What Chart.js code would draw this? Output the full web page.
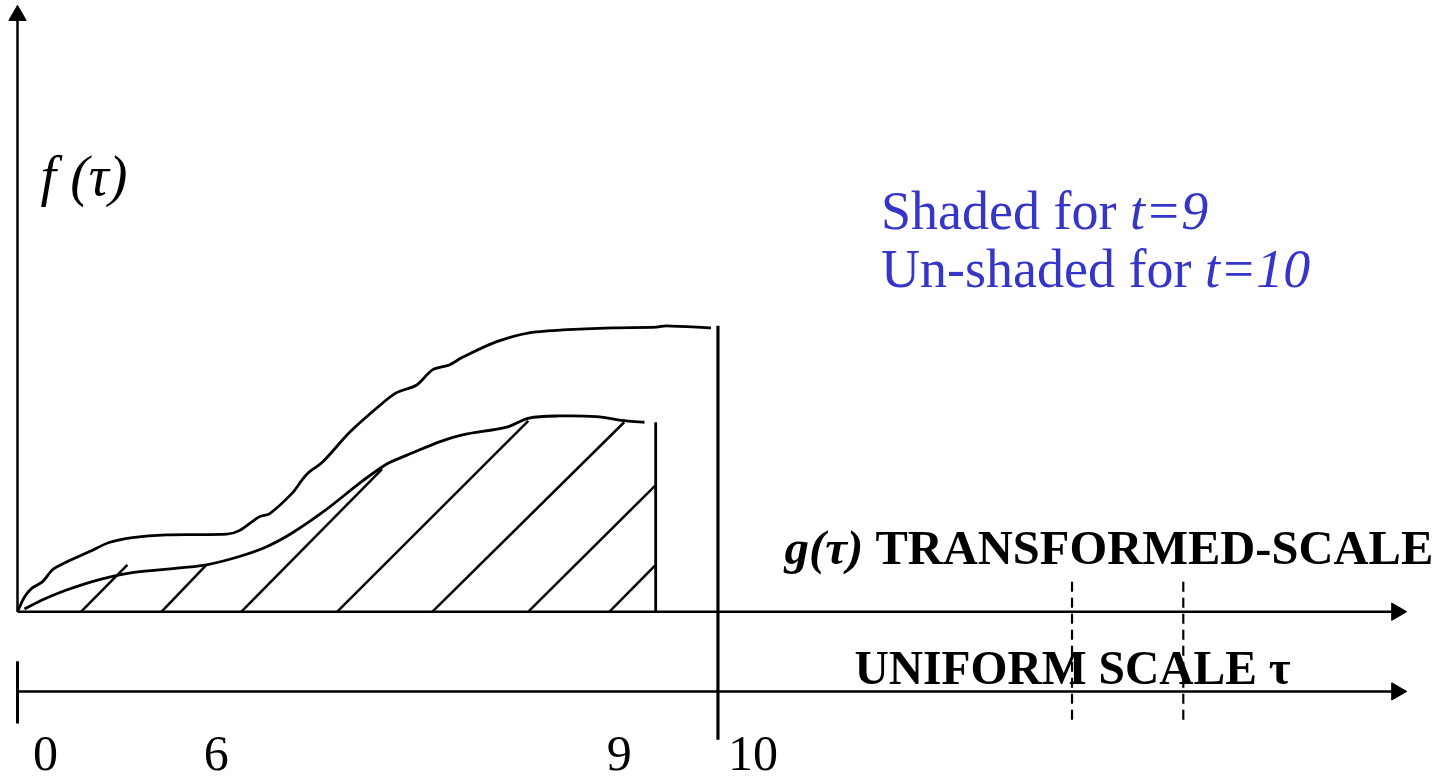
<!DOCTYPE html>
<html>
<head>
<meta charset="utf-8">
<script src="https://cdn.jsdelivr.net/npm/chart.js@4.4.1/dist/chart.umd.min.js"></script>
<style>
    body { margin: 0; background: #fff; }
    canvas { display: block; }
</style>
</head>
<body>
<canvas id="diagram" width="1445" height="776"></canvas>
<script>
// upper curve (un-shaded, t=10)
const upperX = [0, 0.1, 0.21, 0.36, 0.5, 0.7, 1.03, 1.31, 1.64, 2.13, 2.99, 3.17, 3.46, 3.6, 3.93, 4.07, 4.17, 4.36, 4.74, 5.13, 5.41, 5.7, 5.93, 6.17, 6.36, 6.84, 7.31, 7.79, 8.5, 9.13, 9.27, 9.91];
const upperY = [0, 0.21, 0.34, 0.43, 0.6, 0.71, 0.86, 0.99, 1.06, 1.1, 1.11, 1.16, 1.36, 1.4, 1.7, 1.89, 2.0, 2.14, 2.56, 2.91, 3.13, 3.24, 3.46, 3.53, 3.64, 3.86, 3.99, 4.03, 4.06, 4.07, 4.09, 4.06];

// lower curve (shaded, t=9)
const lowerX = [0.1, 0.36, 0.7, 1.17, 1.64, 2.36, 2.7, 3.17, 3.56, 3.93, 4.41, 4.89, 5.21, 5.31, 5.64, 6.03, 6.36, 6.99, 7.31, 7.74, 8.27, 8.7, 8.96];
const lowerY = [0.04, 0.17, 0.31, 0.46, 0.56, 0.63, 0.67, 0.79, 0.93, 1.13, 1.46, 1.84, 2.07, 2.13, 2.27, 2.43, 2.53, 2.64, 2.77, 2.8, 2.79, 2.73, 2.71];

// hatch strokes: foot on the axis, top end
const hatchStartX = [0.91, 2.06, 3.2, 4.57, 5.93, 7.3, 8.46];
const hatchEndX = [1.57, 2.7, 5.21, 7.3, 8.67, 9.11, 9.11];
const hatchEndY = [0.67, 0.67, 2.04, 2.73, 2.71, 1.8, 0.66];

// cut-off lines
const shadedEnd = 9.12, shadedTop = 2.71;
const unshadedEnd = 10.01, unshadedTop = 4.09, unshadedBottom = -1.83;
const dashedX = [15.07, 16.66];

// axes
const axisEnd = 19.71, yAxisEnd = 8.53;
const uniformY = -1.14;

// labels under the uniform scale
const tickLabels = ["0", "6", "9", "10"];
const tickPos = [0.4, 2.84, 8.6, 10.51];

const serif = '"Liberation Serif", "Times New Roman", serif';
const ink = "#000";
const blue = "#3535c8";

function pts(xs, ys) {
    return xs.map((x, i) => ({ x: x, y: ys[i] }));
}

function seg(x1, y1, x2, y2, width, extra) {
    return Object.assign({
        data: [{ x: x1, y: y1 }, { x: x2, y: y2 }],
        showLine: true,
        borderColor: ink,
        borderWidth: width,
        pointRadius: 0,
        clip: false
    }, extra || {});
}

function arrow(x1, y1, x2, y2, rot) {
    return seg(x1, y1, x2, y2, 2.5, {
        pointRadius: [0, 10],
        pointStyle: "triangle",
        pointRotation: rot,
        pointBackgroundColor: ink,
        pointBorderColor: ink,
        pointBorderWidth: 1
    });
}

const datasets = [];

datasets.push(arrow(0, 0, 0, yAxisEnd, 0));
datasets.push(arrow(0, 0, axisEnd, 0, 90));
datasets.push(arrow(0, uniformY, axisEnd, uniformY, 90));
datasets.push(seg(0, -0.71, 0, -1.6, 3));

datasets.push({
    data: pts(upperX, upperY),
    showLine: true,
    borderColor: ink,
    borderWidth: 2.8,
    pointRadius: 0,
    tension: 0.3,
    clip: false
});
datasets.push({
    data: pts(lowerX, lowerY),
    showLine: true,
    borderColor: ink,
    borderWidth: 2.8,
    pointRadius: 0,
    tension: 0.3,
    clip: false
});

hatchStartX.forEach((x, i) => {
    datasets.push(seg(x, 0, hatchEndX[i], hatchEndY[i], 2.5));
});

datasets.push(seg(shadedEnd, 0, shadedEnd, shadedTop, 2.8));
datasets.push(seg(unshadedEnd, unshadedBottom, unshadedEnd, unshadedTop, 3.2));

dashedX.forEach(x => {
    datasets.push(seg(x, 0.43, x, -1.57, 2.2, { borderDash: [10, 6] }));
});

// text is drawn in data space too
const textPlugin = {
    id: "sketchText",
    afterDatasetsDraw(chart) {
        const ctx = chart.ctx;
        const sx = chart.scales.x, sy = chart.scales.y;

        function run(x, y, pieces, color) {
            let cx = sx.getPixelForValue(x);
            const cy = sy.getPixelForValue(y);
            ctx.fillStyle = color;
            pieces.forEach(p => {
                ctx.font = p[1];
                ctx.fillText(p[0], cx, cy);
                cx += ctx.measureText(p[0]).width;
            });
        }

        ctx.save();
        ctx.textBaseline = "alphabetic";
        ctx.textAlign = "left";

        run(0.33, 5.96, [["f (τ)", "italic 56px " + serif]], ink);

        run(12.34, 5.47, [["Shaded for ", "54px " + serif], ["t=9", "italic 54px " + serif]], blue);
        run(12.34, 4.64, [["Un-shaded for ", "54px " + serif], ["t=10", "italic 54px " + serif]], blue);

        run(10.96, 0.68, [["g(τ)", "italic bold 49px " + serif], [" TRANSFORMED-SCALE", "bold 48.5px " + serif]], ink);
        run(11.96, -1.04, [["UNIFORM SCALE τ", "bold 47.5px " + serif]], ink);

        ctx.textAlign = "center";
        ctx.fillStyle = ink;
        ctx.font = "50px " + serif;
        tickLabels.forEach((t, i) => {
            ctx.fillText(t, sx.getPixelForValue(tickPos[i]), sy.getPixelForValue(-2.26));
        });
        ctx.restore();
    }
};

const ctx = document.getElementById("diagram").getContext("2d");
new Chart(ctx, {
    type: "scatter",
    data: { datasets: datasets },
    options: {
        responsive: false,
        animation: false,
        layout: { padding: 0, autoPadding: false },
        scales: {
            x: { type: "linear", min: -0.25, max: 20.4, display: false },
            y: { type: "linear", min: -2.35, max: 8.75, display: false }
        },
        plugins: {
            legend: { display: false },
            tooltip: { enabled: false }
        }
    },
    plugins: [textPlugin]
});
</script>
</body>
</html>
